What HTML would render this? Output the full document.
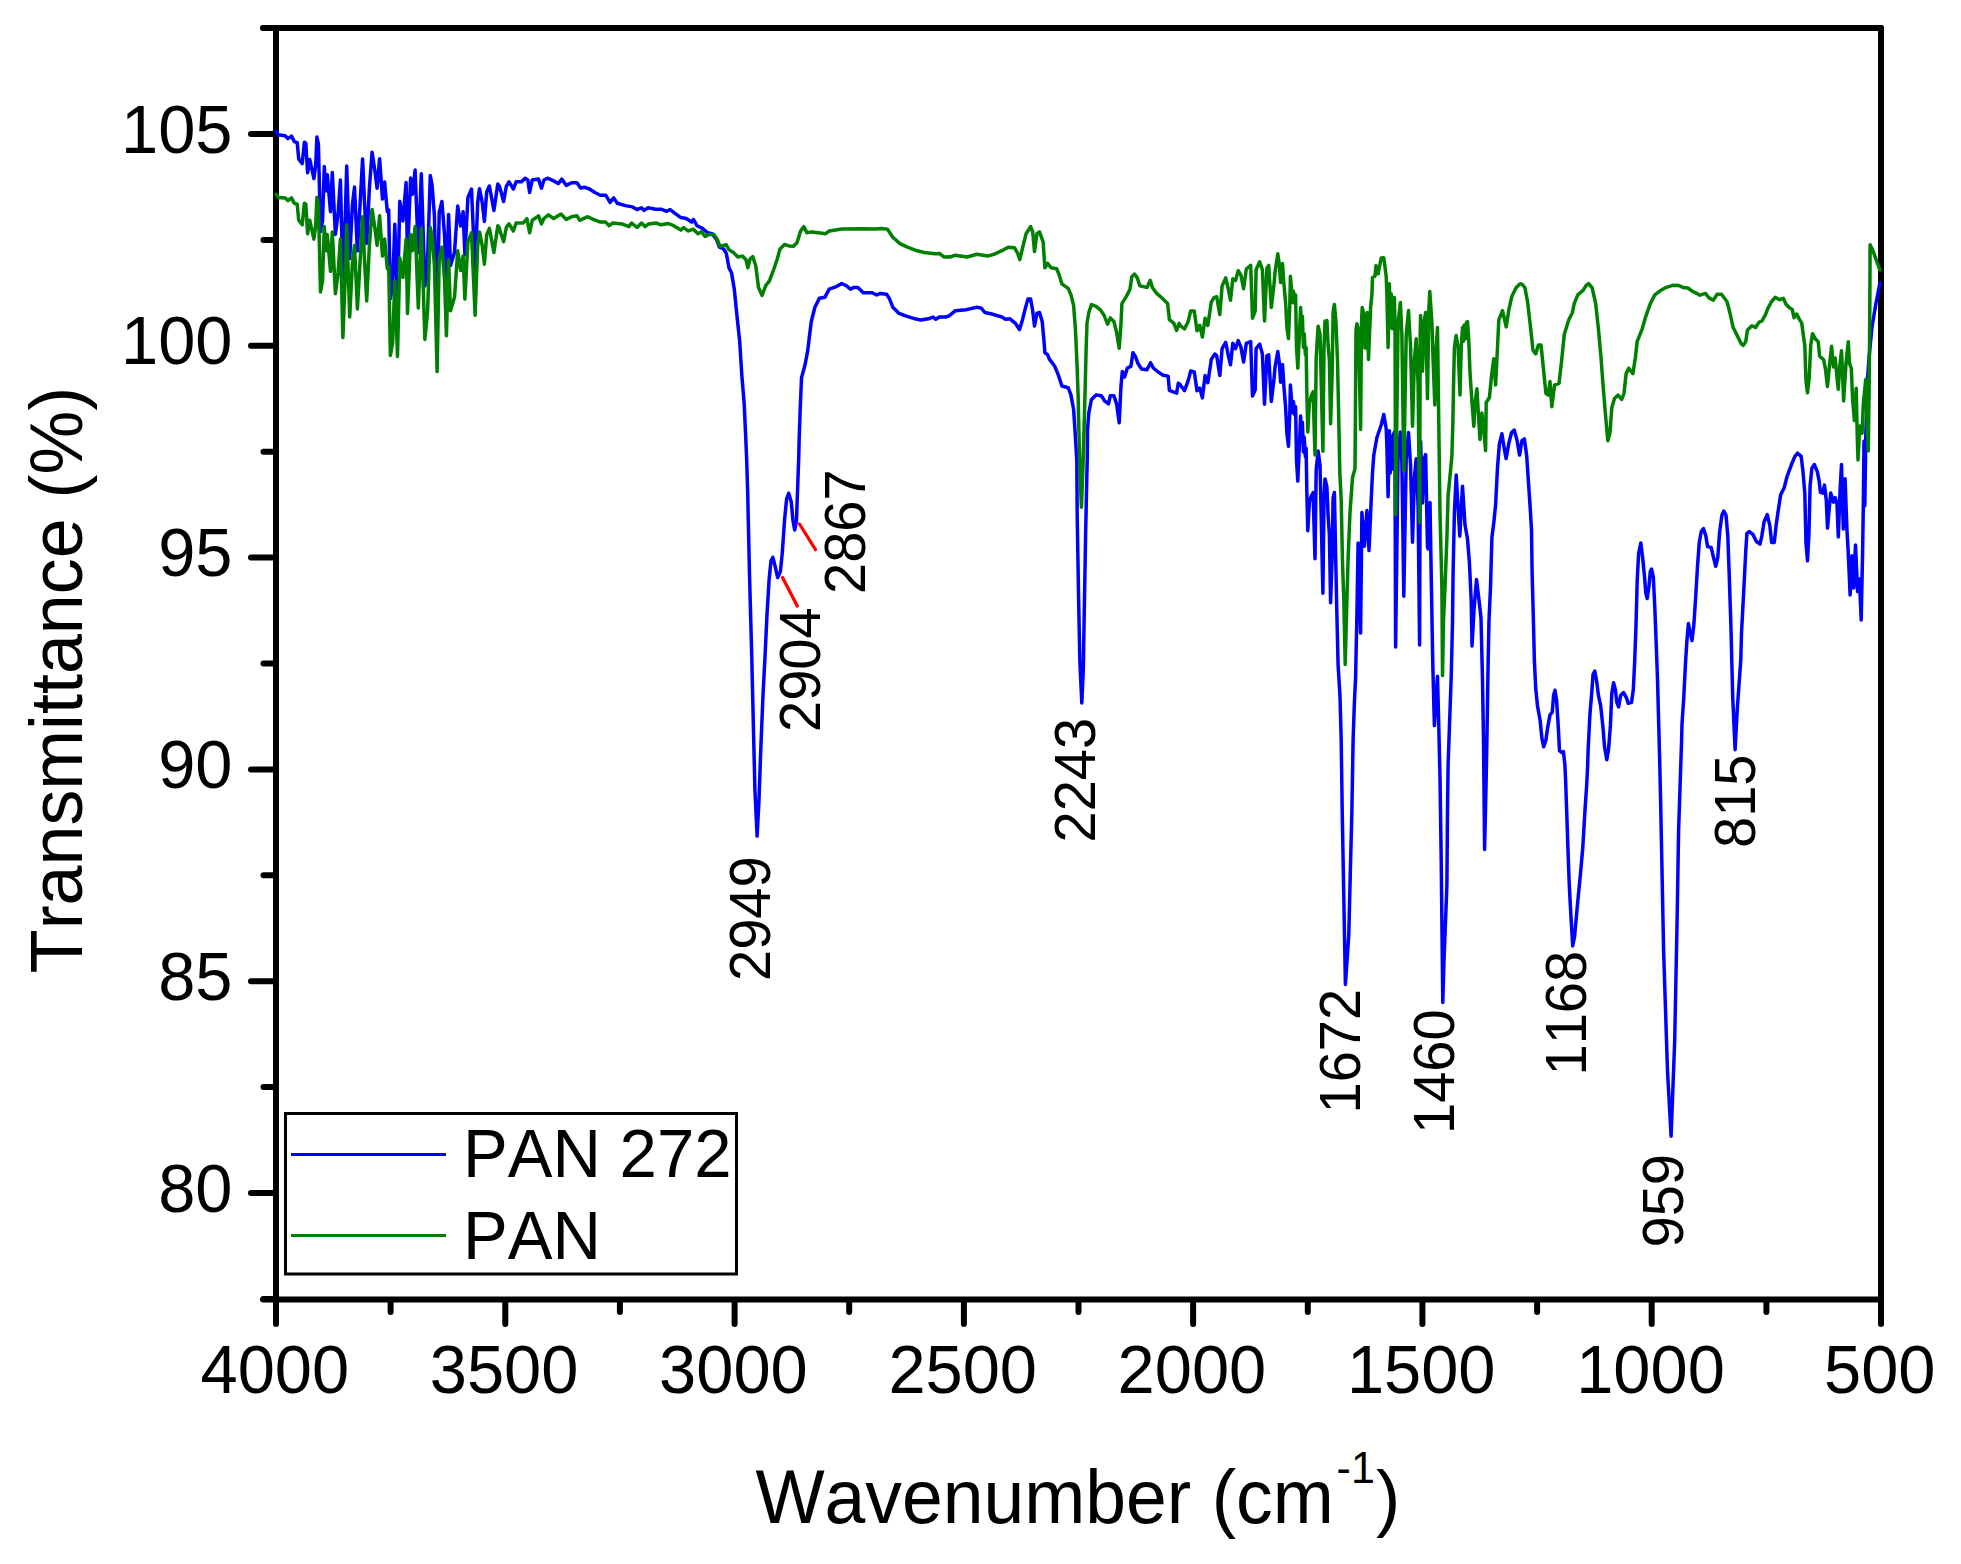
<!DOCTYPE html>
<html><head><meta charset="utf-8"><title>FTIR PAN</title>
<style>
html,body{margin:0;padding:0;background:#fff;}
body{width:1961px;height:1564px;overflow:hidden;}
svg{display:block;font-family:"Liberation Sans",sans-serif;fill:#000;font-kerning:none;}
.ax line{stroke:#000;stroke-width:6;stroke-linecap:round;}
.tl{font-size:66px;}
.pk{font-size:56px;}
.at{font-size:72px;}
.lg{font-size:67.1px;}
.cv{fill:none;stroke-width:3.5;stroke-linejoin:round;stroke-linecap:round;}
</style></head><body>
<svg width="1961" height="1564" viewBox="0 0 1961 1564">
<rect width="1961" height="1564" fill="#fff"/>
<g stroke="#ff0000" stroke-width="3.3" stroke-linecap="round"><line x1="782.5" y1="577.5" x2="797.3" y2="606"/><line x1="799.5" y1="524" x2="815.5" y2="549.7"/></g>
<rect x="285.5" y="1113.5" width="451" height="160.5" fill="#fff" stroke="#000" stroke-width="3"/>
<line x1="291" y1="1154.5" x2="446" y2="1154.5" stroke="#0000ff" stroke-width="3"/>
<line x1="291" y1="1235.5" x2="446" y2="1235.5" stroke="#008000" stroke-width="3"/>
<g class="lg"><text transform="translate(463,1177) scale(1,1.03)">PAN 272</text><text transform="translate(463,1258.7) scale(1,1.03)">PAN</text></g>
<g class="ax">
<line x1="263" y1="28" x2="1881" y2="28" />
<line x1="263" y1="1299.5" x2="1881" y2="1299.5"/>
<line x1="276" y1="28" x2="276" y2="1299.5" stroke-linecap="butt"/>
<line x1="1881" y1="28" x2="1881" y2="1299.5" stroke-linecap="butt"/>
<line x1="251.0" y1="1193.0" x2="276.0" y2="1193.0"/><line x1="251.0" y1="981.2" x2="276.0" y2="981.2"/><line x1="251.0" y1="769.4" x2="276.0" y2="769.4"/><line x1="251.0" y1="557.6" x2="276.0" y2="557.6"/><line x1="251.0" y1="345.8" x2="276.0" y2="345.8"/><line x1="251.0" y1="134.0" x2="276.0" y2="134.0"/><line x1="263.5" y1="1298.9" x2="276.0" y2="1298.9"/><line x1="263.5" y1="1087.1" x2="276.0" y2="1087.1"/><line x1="263.5" y1="875.3" x2="276.0" y2="875.3"/><line x1="263.5" y1="663.5" x2="276.0" y2="663.5"/><line x1="263.5" y1="451.7" x2="276.0" y2="451.7"/><line x1="263.5" y1="239.9" x2="276.0" y2="239.9"/><line x1="263.5" y1="28.1" x2="276.0" y2="28.1"/><line x1="1881.0" y1="1300.5" x2="1881.0" y2="1324.0"/><line x1="1651.7" y1="1300.5" x2="1651.7" y2="1324.0"/><line x1="1422.4" y1="1300.5" x2="1422.4" y2="1324.0"/><line x1="1193.1" y1="1300.5" x2="1193.1" y2="1324.0"/><line x1="963.9" y1="1300.5" x2="963.9" y2="1324.0"/><line x1="734.6" y1="1300.5" x2="734.6" y2="1324.0"/><line x1="505.3" y1="1300.5" x2="505.3" y2="1324.0"/><line x1="276.0" y1="1300.5" x2="276.0" y2="1324.0"/><line x1="1766.4" y1="1300.5" x2="1766.4" y2="1312.0"/><line x1="1537.1" y1="1300.5" x2="1537.1" y2="1312.0"/><line x1="1307.8" y1="1300.5" x2="1307.8" y2="1312.0"/><line x1="1078.5" y1="1300.5" x2="1078.5" y2="1312.0"/><line x1="849.2" y1="1300.5" x2="849.2" y2="1312.0"/><line x1="619.9" y1="1300.5" x2="619.9" y2="1312.0"/><line x1="390.6" y1="1300.5" x2="390.6" y2="1312.0"/>
</g>
<path class="cv" stroke="#0000ff" d="M276.3,131.6 L278.1,134.8 L285.2,135.7 L287.9,138.6 L291.5,136.1 L294.2,141.6 L297.2,142.7 L298.7,158.9 L302.2,163.6 L304.4,142.2 L305.8,143.2 L307.6,172.8 L309.8,159.5 L313.9,178.6 L315.7,165.2 L316.9,137.0 L318.4,143.9 L320.5,231.8 L322.5,221.1 L324.3,166.6 L325.9,190.9 L327.3,174.8 L330.5,211.7 L332.3,172.4 L335.4,234.4 L338.1,213.0 L340.4,180.0 L342.9,278.7 L345.2,218.8 L346.7,166.1 L349.7,258.5 L352.4,204.9 L354.5,187.1 L357.4,250.8 L360.4,198.2 L362.6,158.9 L364.4,200.2 L366.7,243.3 L369.4,187.9 L372.1,152.2 L374.8,170.2 L377.1,188.2 L379.6,158.7 L382.5,199.0 L384.6,182.0 L387.3,211.7 L388.7,209.9 L390.4,298.6 L392.7,285.2 L394.8,224.3 L397.5,299.6 L399.8,201.2 L402.9,220.9 L406.1,182.5 L407.5,256.8 L410.6,178.1 L412.4,194.3 L415.1,170.1 L418.3,252.6 L421.3,173.8 L424.9,285.9 L427.6,258.9 L430.3,175.5 L432.1,185.4 L434.4,215.3 L437.1,323.4 L439.2,212.6 L441.9,201.5 L444.6,235.7 L446.4,290.4 L448.6,214.4 L450.5,265.6 L454.5,252.4 L457.7,206.0 L460.7,225.9 L463.1,211.7 L464.9,254.8 L467.9,197.7 L471.5,189.0 L475.1,271.6 L477.7,202.0 L479.5,188.7 L482.2,202.4 L484.4,221.4 L486.7,192.0 L489.4,186.0 L493.9,210.5 L497.8,184.0 L499.2,185.9 L500.0,188.1 L503.6,201.5 L506.3,186.3 L509.0,181.8 L513.4,189.0 L516.1,181.8 L521.5,181.8 L525.1,178.2 L527.8,180.0 L529.6,192.5 L532.2,180.0 L538.5,179.1 L541.5,188.1 L543.9,180.0 L547.5,178.2 L553.7,180.9 L558.2,183.6 L561.8,179.1 L566.3,185.4 L571.6,182.7 L577.0,182.7 L580.6,188.1 L584.2,187.2 L589.5,189.0 L594.9,192.5 L600.3,195.2 L605.7,195.2 L610.1,202.4 L613.7,197.9 L617.3,203.3 L625.4,205.6 L632.5,206.9 L637.0,209.5 L641.5,207.8 L644.2,210.4 L647.8,207.8 L655.8,209.2 L661.2,209.2 L666.6,211.3 L670.1,209.5 L674.6,213.1 L680.9,217.6 L686.3,218.5 L691.6,222.1 L693.4,219.4 L697.0,225.7 L702.4,228.4 L707.7,232.8 L712.2,233.7 L716.7,240.0 L719.4,247.2 L720.0,247.2 L723.6,249.0 L726.3,253.4 L729.0,267.8 L731.6,273.1 L734.3,289.2 L737.0,316.1 L739.7,341.2 L741.8,375.2 L744.2,403.9 L745.6,434.3 L746.7,460.1 L747.7,493.7 L749.5,574.3 L751.7,654.8 L753.6,735.4 L754.9,789.1 L757.1,836.1 L758.9,802.5 L760.8,748.8 L763.0,695.1 L765.1,654.8 L767.0,614.6 L769.1,579.6 L771.0,560.8 L772.9,557.4 L775.1,566.2 L777.7,577.5 L780.4,571.6 L782.3,552.8 L784.5,520.6 L786.6,499.1 L788.7,493.2 L791.2,501.8 L793.0,520.6 L794.7,530.0 L796.5,520.6 L797.9,480.3 L798.7,458.8 L799.2,437.9 L800.2,409.2 L801.5,377.9 L805.1,364.5 L807.8,350.1 L809.5,335.8 L811.3,321.5 L814.9,307.2 L819.4,298.2 L824.8,297.3 L829.2,289.2 L836.4,286.6 L841.8,283.5 L846.3,285.7 L850.4,289.2 L853.4,287.5 L857.9,287.5 L863.3,292.8 L872.2,292.8 L876.7,295.0 L880.3,293.4 L886.6,294.3 L889.2,298.2 L892.8,307.2 L899.1,313.4 L906.3,316.1 L915.2,318.8 L920.6,320.1 L928.6,318.8 L933.1,317.0 L935.8,319.3 L939.4,317.0 L945.7,317.0 L949.2,315.8 L950.0,315.2 L955.4,310.7 L966.1,309.8 L969.7,308.9 L976.9,307.2 L981.3,308.1 L984.9,312.5 L993.0,314.3 L1001.9,317.0 L1005.5,319.3 L1010.0,318.8 L1015.4,323.3 L1019.5,329.5 L1022.5,319.7 L1025.2,308.9 L1027.9,299.1 L1030.6,299.1 L1032.7,310.7 L1034.5,326.0 L1036.9,313.4 L1039.5,312.5 L1042.2,321.5 L1044.0,341.2 L1044.9,352.8 L1047.6,354.6 L1049.4,359.1 L1054.8,366.3 L1058.4,375.2 L1061.9,386.0 L1068.2,387.7 L1070.9,394.9 L1073.6,409.2 L1074.8,427.1 L1075.9,445.1 L1076.8,460.1 L1077.2,515.9 L1078.5,592.6 L1079.8,659.8 L1081.8,702.9 L1083.3,669.4 L1084.6,592.6 L1085.6,535.1 L1086.8,477.5 L1087.3,458.4 L1087.5,430.7 L1088.8,412.8 L1091.5,399.4 L1096.0,394.9 L1101.3,395.8 L1104.9,401.2 L1108.5,403.9 L1110.3,395.8 L1113.9,395.8 L1116.6,403.9 L1119.2,422.7 L1121.0,386.0 L1122.3,371.6 L1124.6,377.0 L1127.3,368.0 L1130.9,366.3 L1133.0,352.8 L1135.4,356.4 L1138.0,363.6 L1141.6,368.9 L1147.0,369.8 L1150.6,362.7 L1153.3,368.0 L1157.7,371.6 L1163.1,375.2 L1168.1,376.1 L1169.4,390.4 L1173.9,392.2 L1176.6,393.1 L1178.3,383.3 L1180.0,384.5 L1184.5,390.7 L1188.1,380.9 L1190.7,371.0 L1194.3,371.9 L1197.0,390.7 L1199.7,388.0 L1202.4,397.9 L1205.1,375.5 L1207.8,382.7 L1211.3,359.4 L1214.9,354.0 L1216.7,355.8 L1219.8,375.5 L1222.1,348.6 L1225.7,342.4 L1228.4,355.8 L1230.5,364.8 L1232.8,343.3 L1235.5,348.6 L1238.2,340.6 L1240.9,346.9 L1243.6,362.1 L1246.3,343.3 L1250.7,341.5 L1252.5,396.1 L1255.2,389.8 L1256.1,348.6 L1259.7,344.2 L1262.4,354.0 L1264.5,404.2 L1266.9,355.8 L1268.7,354.9 L1271.3,401.5 L1274.0,379.1 L1275.0,367.5 L1277.8,351.5 L1279.4,363.8 L1280.6,382.2 L1282.5,364.4 L1284.0,387.6 L1285.6,407.0 L1286.9,433.4 L1288.5,446.2 L1289.8,413.5 L1290.4,385.1 L1291.5,399.5 L1292.5,412.5 L1293.5,401.8 L1294.5,414.3 L1295.6,406.8 L1296.5,459.8 L1297.8,481.1 L1299.4,445.5 L1300.6,416.1 L1301.5,437.3 L1302.4,422.2 L1303.4,452.0 L1304.2,437.0 L1305.4,456.7 L1306.1,448.2 L1306.9,494.6 L1307.8,530.7 L1309.4,501.9 L1311.2,496.3 L1313.1,492.7 L1315.0,558.8 L1316.2,469.9 L1318.1,451.1 L1320.0,464.9 L1321.0,507.1 L1322.9,593.3 L1324.0,497.8 L1325.0,478.9 L1326.9,487.0 L1328.1,515.6 L1329.4,534.8 L1330.6,602.8 L1332.2,555.4 L1333.1,497.5 L1334.4,492.5 L1336.0,572.5 L1336.9,615.0 L1338.1,665.0 L1340.0,696.2 L1341.2,740.0 L1342.2,810.5 L1343.8,897.5 L1345.4,984.4 L1348.8,935.0 L1350.0,885.0 L1351.9,810.0 L1353.1,740.0 L1354.4,702.5 L1355.6,677.5 L1356.9,615.0 L1358.1,543.1 L1360.6,633.1 L1361.9,512.5 L1364.4,546.2 L1366.9,510.6 L1369.0,550.6 L1371.2,500.0 L1372.5,472.5 L1373.8,455.0 L1376.9,437.5 L1381.2,425.0 L1383.8,414.5 L1386.2,428.7 L1386.9,446.4 L1388.1,496.7 L1389.4,430.8 L1390.2,472.9 L1391.2,436.5 L1392.2,468.9 L1393.2,435.1 L1394.4,432.1 L1395.0,458.0 L1395.6,647.0 L1398.1,453.6 L1400.4,432.1 L1401.9,462.8 L1403.8,596.2 L1406.2,458.7 L1408.5,432.6 L1410.6,466.3 L1412.5,542.2 L1414.4,478.0 L1416.2,458.8 L1418.1,506.2 L1419.6,644.9 L1420.2,459.4 L1420.6,441.3 L1422.5,503.0 L1424.0,459.2 L1425.6,454.6 L1427.5,547.1 L1428.1,548.8 L1430.0,502.5 L1431.2,575.0 L1432.8,665.0 L1434.4,725.6 L1436.0,697.5 L1437.5,676.2 L1438.8,727.5 L1440.0,777.5 L1441.2,860.0 L1442.8,1002.5 L1444.0,960.0 L1445.0,935.0 L1446.9,885.0 L1447.5,810.0 L1448.1,765.0 L1449.4,727.5 L1451.2,677.5 L1452.5,622.5 L1453.1,572.5 L1454.4,512.5 L1456.2,475.0 L1456.2,475.0 L1459.8,536.2 L1462.5,486.2 L1465.0,525.0 L1467.5,538.8 L1469.4,562.5 L1471.2,600.0 L1472.0,646.0 L1474.0,610.0 L1476.5,579.4 L1479.0,600.0 L1481.0,618.0 L1482.5,680.0 L1483.5,740.0 L1484.6,849.4 L1486.2,777.5 L1486.9,740.0 L1488.1,665.0 L1489.0,620.0 L1490.5,587.5 L1491.9,537.5 L1493.8,522.5 L1495.6,505.0 L1497.5,467.5 L1499.4,443.8 L1501.9,433.8 L1504.0,447.0 L1506.1,458.6 L1508.8,443.4 L1511.5,432.7 L1514.2,430.0 L1516.9,439.8 L1519.6,455.1 L1521.9,440.7 L1524.4,438.9 L1526.7,456.0 L1528.5,482.8 L1530.3,509.7 L1531.5,530.1 L1532.1,571.6 L1533.3,616.4 L1534.4,661.2 L1535.7,688.0 L1537.5,706.0 L1540.1,720.3 L1541.9,738.2 L1543.7,746.8 L1545.9,740.0 L1547.7,727.4 L1550.0,714.9 L1552.3,712.2 L1553.6,695.2 L1555.0,690.2 L1556.6,700.6 L1558.1,723.9 L1559.5,750.7 L1561.6,752.5 L1563.4,751.6 L1564.9,765.1 L1565.6,780.1 L1566.7,811.6 L1567.9,847.5 L1569.2,883.3 L1570.6,910.1 L1572.7,946.0 L1574.5,937.0 L1577.8,901.2 L1580.4,874.3 L1582.8,847.5 L1584.9,811.6 L1586.7,784.8 L1587.6,766.9 L1588.1,750.7 L1589.9,714.9 L1592.1,688.0 L1593.0,674.6 L1594.8,671.0 L1596.6,680.9 L1598.4,695.2 L1600.7,706.0 L1602.8,725.7 L1604.6,747.1 L1606.8,759.7 L1608.6,748.9 L1610.4,725.7 L1611.8,693.4 L1613.6,682.7 L1615.4,689.8 L1616.8,702.4 L1618.6,706.9 L1620.7,695.2 L1623.4,692.5 L1626.1,697.0 L1628.3,703.3 L1631.5,702.4 L1633.3,689.8 L1634.7,661.2 L1636.0,625.4 L1637.2,580.6 L1638.6,553.7 L1640.8,543.0 L1642.6,557.3 L1644.4,575.2 L1645.8,593.1 L1647.2,598.5 L1649.0,586.0 L1650.3,571.6 L1651.5,569.0 L1653.3,577.0 L1654.8,607.5 L1656.2,643.3 L1657.5,679.1 L1658.7,723.9 L1659.8,765.1 L1660.6,800.2 L1663.6,950.5 L1667.5,1070.7 L1671.1,1136.2 L1674.7,1040.6 L1677.1,920.4 L1678.6,830.3 L1681.6,740.1 L1682.0,723.9 L1683.8,697.0 L1685.6,661.2 L1687.0,639.7 L1688.4,623.6 L1690.2,632.5 L1692.0,640.6 L1693.8,625.4 L1695.6,598.5 L1697.4,568.1 L1699.2,543.0 L1701.3,531.3 L1703.5,528.7 L1705.8,535.8 L1707.6,546.6 L1711.2,547.5 L1713.5,557.3 L1715.7,566.3 L1717.8,557.3 L1719.6,532.2 L1721.9,515.2 L1723.7,511.1 L1726.0,515.2 L1727.8,535.8 L1729.1,571.6 L1730.9,625.4 L1732.7,697.0 L1733.3,710.1 L1735.1,749.7 L1737.2,710.1 L1740.8,659.7 L1741.5,632.8 L1743.9,588.0 L1745.7,552.2 L1746.9,533.4 L1749.3,531.6 L1752.8,534.3 L1756.4,541.5 L1760.0,544.2 L1761.8,536.1 L1764.1,521.8 L1767.2,514.6 L1769.8,525.4 L1771.6,542.4 L1774.3,542.4 L1776.1,525.4 L1777.9,512.8 L1780.6,494.9 L1784.2,487.8 L1786.9,477.0 L1789.5,469.8 L1792.2,462.7 L1794.9,456.4 L1797.6,453.2 L1801.2,456.4 L1803.0,471.6 L1804.8,493.1 L1806.0,543.3 L1807.5,560.8 L1808.9,534.3 L1810.1,486.0 L1811.9,468.1 L1814.3,464.5 L1817.3,471.6 L1819.1,480.6 L1820.4,492.2 L1822.7,493.1 L1824.5,485.1 L1826.3,500.3 L1827.5,528.1 L1829.3,507.5 L1830.7,493.1 L1833.4,502.1 L1835.2,497.6 L1837.0,503.9 L1838.3,537.0 L1840.1,489.5 L1841.5,464.5 L1843.3,528.9 L1845.1,478.8 L1846.9,528.9 L1848.3,554.0 L1850.1,594.9 L1851.9,555.8 L1853.7,588.0 L1855.5,545.1 L1857.6,591.6 L1859.4,579.1 L1861.2,619.9 L1862.6,552.2 L1863.3,507.5 L1864.0,441.2 L1864.8,505.7 L1865.8,435.8 L1867.4,381.0 L1869.2,356.0 L1871.9,327.5 L1876.0,303.0 L1880.0,282.7"/>
<path class="cv" stroke="#008000" d="M276.3,194.3 L278.1,197.4 L285.2,197.9 L287.9,200.6 L291.5,197.9 L294.2,203.3 L297.2,204.2 L298.7,220.3 L302.2,224.8 L304.4,203.3 L305.8,204.2 L307.6,233.7 L309.8,220.3 L313.9,239.1 L315.7,225.7 L316.9,197.4 L318.4,204.2 L320.5,291.9 L322.5,281.2 L324.3,226.6 L325.9,250.7 L327.3,234.6 L330.5,271.3 L332.3,231.9 L335.4,293.7 L338.1,272.2 L340.4,239.1 L342.9,337.6 L345.2,277.6 L346.7,224.8 L349.7,317.0 L352.4,263.3 L354.5,245.4 L357.4,308.9 L360.4,256.1 L362.6,216.7 L364.4,257.9 L366.7,300.9 L369.4,245.4 L372.1,209.5 L374.8,227.5 L377.1,245.4 L379.6,215.8 L382.5,256.1 L384.6,239.1 L387.3,268.6 L388.7,266.9 L390.4,355.5 L392.7,342.1 L394.8,281.2 L397.5,356.4 L399.8,257.9 L402.9,277.6 L406.1,239.1 L407.5,313.4 L410.6,234.6 L412.4,250.7 L415.1,226.6 L418.3,308.0 L421.3,228.4 L424.9,339.4 L427.6,311.6 L430.3,227.5 L432.1,236.4 L434.4,265.1 L437.1,371.6 L439.2,259.7 L441.9,247.2 L444.6,281.2 L446.4,335.8 L448.6,259.7 L450.5,310.7 L454.5,297.3 L457.7,250.7 L460.7,270.4 L463.1,256.1 L464.9,299.1 L467.9,241.8 L471.5,232.8 L475.1,315.2 L477.7,245.4 L479.5,231.9 L482.2,245.4 L484.4,264.2 L486.7,234.6 L489.4,228.4 L493.9,252.5 L497.8,225.7 L499.2,227.5 L500.0,231.0 L503.6,241.8 L506.3,227.5 L509.0,223.9 L513.4,231.0 L516.1,223.0 L523.3,223.0 L526.9,218.5 L529.6,232.8 L532.2,220.3 L538.5,215.8 L541.5,223.9 L543.9,218.5 L548.4,214.9 L553.7,218.5 L560.9,214.0 L566.3,219.4 L571.6,216.7 L577.0,215.8 L579.7,220.3 L587.8,216.7 L593.1,219.4 L600.3,222.1 L605.7,222.1 L609.2,225.7 L612.8,223.0 L621.8,223.9 L628.9,226.6 L631.6,223.0 L637.0,227.5 L641.5,223.0 L645.1,226.6 L648.6,223.9 L655.8,223.0 L661.2,224.8 L668.3,223.5 L673.7,225.7 L680.9,230.1 L683.6,227.5 L688.0,231.0 L693.4,229.2 L697.9,233.7 L701.5,231.9 L705.1,236.4 L708.6,234.6 L714.0,234.6 L717.6,240.0 L719.4,245.4 L720.0,246.3 L726.3,244.8 L729.0,249.8 L733.4,252.5 L737.9,257.0 L742.4,256.1 L746.0,259.7 L747.8,267.8 L750.1,258.8 L752.8,256.7 L755.8,266.0 L758.5,287.5 L762.1,295.5 L765.7,285.7 L769.3,281.2 L773.7,269.5 L777.3,258.8 L780.0,249.0 L784.5,244.5 L789.0,245.9 L793.4,246.3 L797.0,242.7 L800.6,231.0 L803.8,226.6 L806.9,232.8 L811.3,231.9 L818.5,232.8 L825.7,233.7 L829.2,231.0 L841.8,228.9 L863.3,228.7 L875.8,228.9 L881.2,228.4 L887.5,229.3 L892.8,237.3 L900.0,243.6 L906.3,246.6 L915.2,250.2 L924.2,252.5 L934.9,253.8 L939.4,253.4 L943.9,257.0 L949.2,256.7 L950.0,257.0 L955.4,255.2 L967.0,257.0 L976.9,254.3 L987.6,256.1 L993.9,254.3 L1001.9,250.7 L1008.2,247.2 L1014.5,247.7 L1017.7,253.4 L1019.8,259.7 L1022.5,248.1 L1026.1,233.7 L1030.6,226.6 L1032.7,231.9 L1034.5,251.6 L1036.9,233.7 L1039.5,231.9 L1043.1,241.8 L1044.9,267.8 L1047.6,263.3 L1051.2,267.8 L1056.6,268.7 L1059.2,274.9 L1061.9,283.9 L1068.2,288.4 L1070.9,294.6 L1073.6,305.4 L1075.4,328.6 L1076.8,359.1 L1078.1,394.9 L1078.9,430.7 L1079.7,460.1 L1079.8,468.0 L1081.4,507.3 L1082.9,468.0 L1083.2,460.1 L1084.0,430.7 L1085.2,386.0 L1086.1,350.1 L1087.0,323.3 L1088.8,312.5 L1091.5,304.5 L1096.0,306.3 L1100.4,309.8 L1104.0,315.2 L1107.6,324.2 L1110.3,317.9 L1113.9,321.5 L1116.6,332.2 L1119.2,348.3 L1121.0,323.3 L1121.9,303.6 L1126.4,296.4 L1130.0,289.2 L1131.8,276.7 L1134.5,274.0 L1137.2,277.6 L1139.8,285.7 L1143.4,286.6 L1147.0,287.5 L1150.2,280.3 L1152.4,287.5 L1156.9,293.7 L1162.2,298.2 L1167.6,303.6 L1169.4,319.7 L1173.9,323.3 L1176.6,330.4 L1179.2,323.3 L1180.0,325.4 L1184.5,328.9 L1188.1,321.8 L1190.7,311.0 L1194.3,311.0 L1197.0,330.7 L1199.7,325.4 L1202.4,337.0 L1205.1,318.2 L1207.8,325.4 L1211.3,302.1 L1214.0,297.6 L1216.7,296.7 L1219.8,314.6 L1222.1,286.0 L1225.7,277.9 L1228.4,289.5 L1230.5,300.3 L1232.8,278.8 L1235.5,280.6 L1238.2,270.7 L1240.9,275.2 L1243.6,288.7 L1246.3,269.0 L1250.7,265.4 L1252.5,318.2 L1255.2,311.0 L1256.1,269.8 L1259.7,261.8 L1262.4,269.8 L1264.5,320.9 L1266.9,268.1 L1268.7,265.4 L1271.3,307.5 L1274.0,284.2 L1275.0,272.5 L1277.8,253.8 L1279.4,265.0 L1280.6,282.5 L1282.5,263.5 L1284.0,285.0 L1285.6,302.5 L1286.9,327.5 L1288.5,338.5 L1289.8,305.0 L1290.4,276.2 L1291.5,290.0 L1292.5,302.5 L1293.5,291.2 L1294.5,303.1 L1295.6,295.0 L1296.5,347.5 L1297.8,368.1 L1299.4,335.0 L1300.6,307.5 L1301.5,330.0 L1302.4,316.2 L1303.4,347.5 L1304.2,333.8 L1305.4,355.0 L1306.1,347.5 L1306.9,395.0 L1307.8,431.9 L1309.4,402.5 L1311.2,396.2 L1313.1,391.9 L1315.0,455.0 L1316.2,357.5 L1318.1,326.2 L1320.0,333.8 L1321.0,372.5 L1322.9,451.2 L1324.0,347.5 L1325.0,321.2 L1326.9,320.6 L1328.1,345.0 L1329.4,360.0 L1330.6,423.8 L1332.2,372.5 L1333.1,312.5 L1334.4,304.4 L1336.0,322.5 L1337.5,361.2 L1338.8,420.0 L1339.8,472.5 L1341.2,500.0 L1342.5,562.5 L1343.8,600.0 L1345.2,664.4 L1346.9,600.0 L1348.1,558.8 L1350.0,512.5 L1352.5,477.5 L1355.0,468.8 L1356.0,330.0 L1356.9,323.8 L1358.5,330.0 L1360.6,429.4 L1361.5,322.5 L1362.2,307.5 L1364.0,315.0 L1365.0,348.1 L1367.2,312.5 L1368.5,359.4 L1370.6,307.5 L1371.9,295.0 L1372.5,277.5 L1375.0,276.2 L1376.0,265.6 L1378.1,273.8 L1381.2,258.1 L1383.8,257.8 L1386.2,276.2 L1386.9,295.0 L1388.1,347.5 L1389.4,283.8 L1390.2,327.5 L1391.2,293.8 L1392.2,328.8 L1393.2,297.5 L1394.4,297.5 L1395.0,325.0 L1395.6,514.4 L1398.1,322.5 L1400.4,302.5 L1401.9,335.0 L1403.8,470.6 L1406.2,335.0 L1408.5,310.6 L1410.6,347.5 L1412.5,426.2 L1414.4,360.0 L1416.2,338.8 L1418.1,385.0 L1419.6,522.5 L1420.2,335.0 L1420.6,315.6 L1422.5,371.2 L1424.0,322.5 L1425.6,312.5 L1427.5,398.8 L1428.8,310.0 L1429.8,291.5 L1431.9,322.5 L1433.1,360.0 L1434.8,405.0 L1436.2,347.5 L1437.5,327.5 L1438.8,425.0 L1440.0,512.5 L1441.9,587.5 L1442.5,675.6 L1443.5,620.5 L1445.0,587.5 L1446.9,537.5 L1448.1,495.0 L1450.0,476.2 L1451.9,456.2 L1452.8,425.0 L1453.5,387.5 L1454.4,347.5 L1456.2,335.6 L1458.1,347.5 L1460.0,395.0 L1461.2,347.5 L1462.5,327.5 L1463.5,341.2 L1464.2,325.0 L1465.5,338.8 L1466.5,322.5 L1467.5,321.6 L1468.8,341.2 L1470.0,372.5 L1471.9,401.2 L1473.8,426.2 L1475.0,403.8 L1476.9,388.8 L1478.5,416.2 L1480.0,439.4 L1481.9,413.1 L1483.8,430.5 L1485.6,450.6 L1486.2,402.5 L1489.4,397.5 L1491.9,372.5 L1493.8,358.8 L1495.6,385.0 L1497.5,347.5 L1498.8,320.0 L1502.5,310.6 L1506.2,326.9 L1508.8,310.0 L1511.9,296.2 L1516.2,287.5 L1520.1,283.8 L1522.2,284.4 L1524.9,287.6 L1527.6,301.9 L1530.3,325.2 L1533.0,350.3 L1535.7,353.9 L1538.4,344.9 L1541.0,344.9 L1543.4,368.2 L1545.9,393.3 L1548.2,395.1 L1550.0,381.6 L1551.8,406.7 L1554.5,385.2 L1559.0,383.4 L1561.6,361.0 L1564.3,334.2 L1568.8,319.8 L1572.4,312.7 L1574.2,303.7 L1577.8,294.8 L1583.1,290.3 L1585.8,285.8 L1588.5,283.5 L1592.1,287.6 L1595.7,303.7 L1598.4,328.8 L1601.0,357.5 L1603.7,393.3 L1606.1,421.9 L1607.8,440.7 L1610.0,432.7 L1611.8,407.6 L1614.5,398.6 L1618.1,395.1 L1621.6,399.5 L1624.0,393.3 L1626.1,373.6 L1628.8,368.2 L1632.9,373.6 L1635.4,357.5 L1637.2,341.3 L1642.2,328.8 L1645.8,316.3 L1650.3,303.7 L1654.8,294.8 L1660.1,290.8 L1666.4,287.3 L1672.7,285.3 L1678.9,285.5 L1683.4,287.6 L1687.9,288.0 L1692.4,291.2 L1697.7,293.9 L1700.0,295.2 L1705.4,293.4 L1709.0,297.9 L1713.4,300.2 L1717.0,294.3 L1721.5,294.3 L1726.9,301.5 L1729.6,311.3 L1733.1,327.5 L1737.6,336.4 L1741.2,343.6 L1743.3,345.4 L1745.7,341.8 L1747.5,330.1 L1751.9,325.7 L1755.5,327.5 L1759.1,322.1 L1761.8,321.2 L1765.4,314.9 L1768.1,307.8 L1771.6,301.5 L1775.2,297.4 L1779.7,299.7 L1783.3,298.3 L1786.0,304.2 L1789.5,307.8 L1792.2,309.5 L1794.0,317.6 L1796.7,314.0 L1799.4,319.4 L1801.7,323.0 L1803.5,336.4 L1804.8,345.4 L1806.0,381.2 L1807.5,392.8 L1809.2,377.6 L1810.7,345.4 L1812.5,333.7 L1815.5,339.1 L1818.2,341.8 L1819.6,356.1 L1823.6,359.7 L1825.4,368.6 L1827.5,386.6 L1829.3,366.9 L1831.6,346.3 L1833.4,366.9 L1835.2,357.9 L1837.0,377.6 L1838.3,389.2 L1839.7,366.9 L1841.5,350.7 L1842.9,381.2 L1843.6,400.9 L1846.0,363.3 L1848.3,341.8 L1849.5,363.3 L1851.3,368.6 L1852.6,399.1 L1854.4,420.6 L1856.2,388.3 L1857.2,434.9 L1858.0,460.0 L1859.8,426.0 L1862.1,433.1 L1863.3,404.5 L1865.7,379.4 L1866.9,417.0 L1868.3,451.0 L1869.2,381.2 L1869.8,309.5 L1870.1,244.7 L1872.8,250.4 L1876.4,260.3 L1880.0,270.1"/>
<g class="tl"><text transform="translate(232.5,1211.5) scale(1.012,1.04)" text-anchor="end">80</text><text transform="translate(232.5,999.7) scale(1.012,1.04)" text-anchor="end">85</text><text transform="translate(232.5,787.9) scale(1.012,1.04)" text-anchor="end">90</text><text transform="translate(232.5,576.1) scale(1.012,1.04)" text-anchor="end">95</text><text transform="translate(232.5,364.3) scale(1.012,1.04)" text-anchor="end">100</text><text transform="translate(232.5,152.5) scale(1.012,1.04)" text-anchor="end">105</text><text transform="translate(1879.8,1393) scale(1.012,1.04)" text-anchor="middle">500</text><text transform="translate(1650.5,1393) scale(1.012,1.04)" text-anchor="middle">1000</text><text transform="translate(1421.2,1393) scale(1.012,1.04)" text-anchor="middle">1500</text><text transform="translate(1191.9,1393) scale(1.012,1.04)" text-anchor="middle">2000</text><text transform="translate(962.7,1393) scale(1.012,1.04)" text-anchor="middle">2500</text><text transform="translate(733.4,1393) scale(1.012,1.04)" text-anchor="middle">3000</text><text transform="translate(504.1,1393) scale(1.012,1.04)" text-anchor="middle">3500</text><text transform="translate(274.8,1393) scale(1.012,1.04)" text-anchor="middle">4000</text></g>
<g class="pk"><text transform="translate(769.8,981.0) rotate(-90) scale(1,1.03)">2949</text><text transform="translate(820.0,732.0) rotate(-90) scale(1,1.03)">2904</text><text transform="translate(865.3,594.0) rotate(-90) scale(1,1.03)">2867</text><text transform="translate(1094.5,842.5) rotate(-90) scale(1,1.03)">2243</text><text transform="translate(1359.5,1113.5) rotate(-90) scale(1,1.03)">1672</text><text transform="translate(1454.1,1134.0) rotate(-90) scale(1,1.03)">1460</text><text transform="translate(1585.8,1075.5) rotate(-90) scale(1,1.03)">1168</text><text transform="translate(1683.4,1247.5) rotate(-90) scale(1,1.03)">959</text><text transform="translate(1755.3,848.0) rotate(-90) scale(1,1.03)">815</text></g>
<text class="at" style="font-size:71.8px" transform="translate(82,680) rotate(-90) scale(1,1.035)" text-anchor="middle">Transmittance (%)</text>
<text class="at" style="font-size:73.3px" transform="translate(755.4,1523) scale(1,1.025)">Wavenumber (cm</text>
<text style="font-size:43px" transform="translate(1336.6,1483.4) scale(1,1.02)">-1</text>
<text class="at" style="font-size:72.8px" transform="translate(1376,1523) scale(1,1.03)">)</text>
</svg>
</body></html>
